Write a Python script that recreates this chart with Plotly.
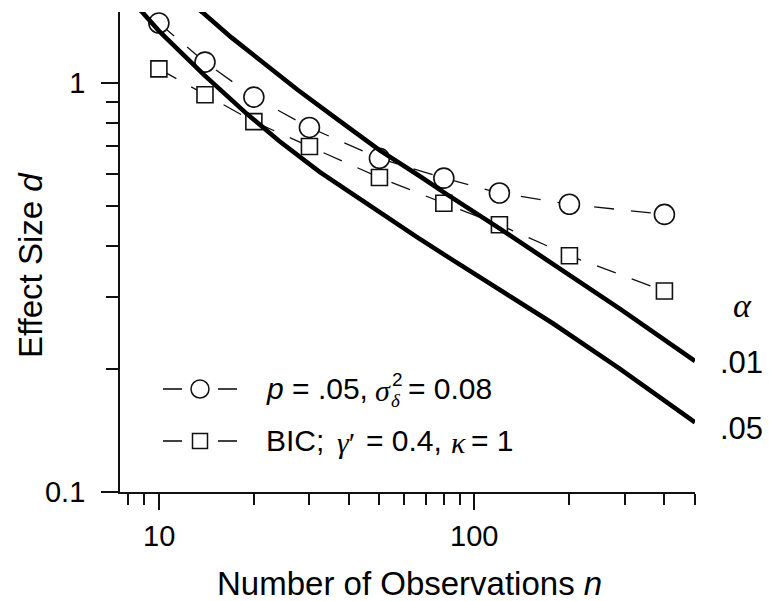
import numpy as np
import plotly.graph_objects as go

# ---------------- data ----------------
n_obs = [10, 14, 20, 30, 50, 80, 120, 200, 400]
d_pvalue = [1.40, 1.124, 0.923, 0.778, 0.654, 0.585, 0.538, 0.505, 0.477]
d_bic = [1.082, 0.935, 0.804, 0.699, 0.587, 0.508, 0.450, 0.378, 0.310]

n_alpha01 = [13, 14, 17, 20, 27.5, 37, 50, 67, 80, 120, 177, 290, 500]
d_alpha01 = [1.54, 1.47, 1.29, 1.165, 0.962, 0.812, 0.685, 0.592, 0.540, 0.441, 0.362, 0.280, 0.209]

n_alpha05 = [8, 8.82, 10, 13.9, 19, 24, 32.3, 43, 50, 65.4, 83, 108.9, 177, 287.6, 500]
d_alpha05 = [1.61, 1.494, 1.34, 1.046, 0.840, 0.722, 0.606, 0.522, 0.483, 0.421, 0.374, 0.327, 0.2585, 0.2005, 0.148]

x_major = [10, 100]
x_major_labels = ["10", "100"]
x_minor = [8, 9, 20, 30, 40, 50, 60, 70, 80, 90, 200, 300, 400, 500]
y_major = [0.1, 1]
y_major_labels = ["0.1", "1"]
y_minor = [0.2, 0.3, 0.4, 0.5, 0.6, 0.7, 0.8, 0.9]
alpha_levels = [".01", ".05"]

# ---------------- layout constants (pixels) ----------------
FIG_W, FIG_H = 769, 601
L, R, T, B = 120, 74, 12, 109
PW = FIG_W - L - R
PH = FIG_H - T - B
BOTTOM = FIG_H - B

def px(x):
    return (x - L) / PW

def py(y):
    return (BOTTOM - y) / PH

SANS = "Liberation Sans, Arial, sans-serif"
SERIF = "Liberation Serif, Times New Roman, serif"
INK = "#111111"

fig = go.Figure()

fig.add_trace(go.Scatter(
    x=n_obs, y=d_pvalue, mode="lines+markers",
    line=dict(color=INK, width=1.3, dash="20px,17px"),
    marker=dict(symbol="circle", size=20, color="white", line=dict(color=INK, width=1.6)),
    showlegend=False, hoverinfo="skip"))
fig.add_trace(go.Scatter(
    x=n_obs, y=d_bic, mode="lines+markers",
    line=dict(color=INK, width=1.3, dash="20px,17px"),
    marker=dict(symbol="square", size=16, color="white", line=dict(color=INK, width=1.6)),
    showlegend=False, hoverinfo="skip"))
fig.add_trace(go.Scatter(
    x=n_alpha01, y=d_alpha01, mode="lines",
    line=dict(color="black", width=4.6), showlegend=False, hoverinfo="skip"))
fig.add_trace(go.Scatter(
    x=n_alpha05, y=d_alpha05, mode="lines",
    line=dict(color="black", width=4.6), showlegend=False, hoverinfo="skip"))

# ---------------- manual legend ----------------
shapes = []
rows = [389, 441]
for ry in rows:
    for (a, b) in [(163, 182), (218, 237)]:
        shapes.append(dict(type="line", xref="paper", yref="paper",
                           x0=px(a), x1=px(b), y0=py(ry), y1=py(ry),
                           line=dict(color=INK, width=1.6)))
shapes.append(dict(type="circle", xref="paper", yref="paper",
                   x0=px(191), x1=px(209), y0=py(rows[0] + 9), y1=py(rows[0] - 9),
                   line=dict(color=INK, width=1.5), fillcolor="white"))
shapes.append(dict(type="rect", xref="paper", yref="paper",
                   x0=px(192.5), x1=px(207.5), y0=py(rows[1] + 7.5), y1=py(rows[1] - 7.5),
                   line=dict(color=INK, width=1.5), fillcolor="white"))

ann = []
def text(x, y, s, size, family=SANS, xanchor="left", yanchor="middle", angle=0):
    ann.append(dict(x=px(x), y=py(y), xref="paper", yref="paper", text=s,
                    showarrow=False, xanchor=xanchor, yanchor=yanchor, textangle=angle,
                    font=dict(family=family, size=size, color="black")))

LEG = 30
# row 1
text(264, 388, "<i>p</i> = .05,", LEG)
text(373, 390, "<i>σ</i>", LEG, SERIF)
text(390, 379, "2", 19)
text(389, 400, "<i>δ</i>", 19, SERIF)
text(406, 388, "= 0.08", LEG)
# row 2
text(264, 440, "BIC;", LEG)
text(335, 442, "<i>γ</i>′", LEG, SERIF)
text(364, 440, "= 0.4,", LEG)
text(449, 442, "<i>κ</i>", LEG, SERIF)
text(469, 440, "= 1", LEG)

# alpha labels
text(742, 305, "<i>α</i>", 34, SERIF, xanchor="center")
text(741, 362, alpha_levels[0], 31, xanchor="center")
text(741, 428, alpha_levels[1], 31, xanchor="center")

# x tick labels (placed on the x scale)
for v, lab in zip(x_major, x_major_labels):
    ann.append(dict(x=np.log10(v), y=py(536), xref="x", yref="paper", text=lab,
                    showarrow=False, xanchor="center", yanchor="middle",
                    font=dict(family=SANS, size=29, color="black")))

# axis titles
text(409, 583, "Number of Observations <i>n</i>", 33, xanchor="center")
text(30, 265, "Effect Size <i>d</i>", 33, xanchor="center", angle=-90)

fig.update_layout(
    width=FIG_W, height=FIG_H,
    margin=dict(l=L, r=R, t=T, b=B, pad=0),
    paper_bgcolor="white", plot_bgcolor="white",
    shapes=shapes, annotations=ann,
    font=dict(family=SANS, color="black"),
    xaxis=dict(type="log", range=[np.log10(7.53), np.log10(500)],
               showgrid=False, zeroline=False,
               showline=True, linecolor=INK, linewidth=1.8,
               ticks="outside", ticklen=16, tickwidth=1.8, tickcolor=INK,
               tickmode="array", tickvals=x_major, ticktext=x_major_labels,
               showticklabels=False,
               minor=dict(tickmode="array", tickvals=x_minor, ticks="outside",
                          ticklen=11, tickwidth=1.8, tickcolor=INK, showgrid=False)),
    yaxis=dict(type="log", range=[-1, np.log10(1.49)],
               showgrid=False, zeroline=False,
               showline=True, linecolor=INK, linewidth=1.8,
               ticks="outside", ticklen=17, tickwidth=1.8, tickcolor=INK,
               tickmode="array", tickvals=y_major, ticktext=y_major_labels,
               tickfont=dict(family=SANS, size=29, color="black"),
               ticklabelstandoff=10,
               minor=dict(tickmode="array", tickvals=y_minor, ticks="outside",
                          ticklen=12, tickwidth=1.8, tickcolor=INK, showgrid=False)),
)

fig.write_html("out.html")
